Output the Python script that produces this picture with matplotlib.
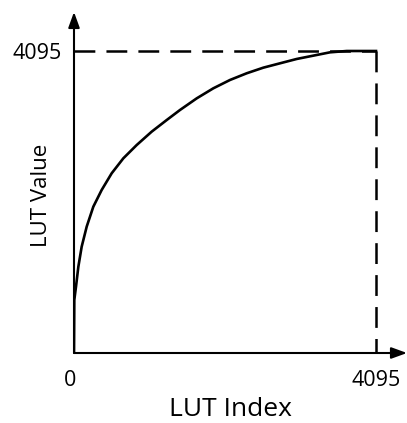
import matplotlib
matplotlib.use('Agg')
import matplotlib.pyplot as plt

plt.rcParams['font.family'] = ['Open Sans', 'DejaVu Sans']
plt.rcParams['lines.scale_dashes'] = False

# кривая LUT
lut_index = [0, 4, 27, 59, 104, 172, 262, 375, 511, 669, 850, 1053, 1257, 1437,
             1664, 1889, 2115, 2342, 2567, 2793, 3020, 3245, 3471, 3698, 4095]
lut_value = [0, 719, 899, 1170, 1441, 1713, 1984, 2210, 2437, 2640, 2820, 3001, 3159, 3295,
             3453, 3589, 3702, 3793, 3869, 3928, 3987, 4032, 4077, 4095, 4095]
max_code = 4095
tick_labels = ['0', '4095']

W, H = 407, 423
fig = plt.figure(figsize=(W / 100, H / 100), dpi=100)

# 302 px на 4095 по обеим осям
per_px = max_code / 302
x0, y0 = 74, 353          # начало координат в пикселях
ax = fig.add_axes([x0 / W, 1 - y0 / H, (W - x0) / W, (y0 - 12) / H])
xmax = (W - x0) * per_px
ymax = (y0 - 12) * per_px
ax.set_xlim(0, xmax)
ax.set_ylim(0, ymax)
ax.axis('off')

ax.plot(lut_index, lut_value, color='black', lw=1.9, solid_joinstyle='round')

dash = (0, (15, 8))
ax.plot([0, max_code], [max_code, max_code], color='black', lw=1.8, linestyle=dash)
ax.plot([max_code, max_code], [max_code, 0], color='black', lw=1.8, linestyle=dash)

arrow = dict(arrowstyle='-|>,head_length=0.55,head_width=0.2', color='black',
             lw=1.5, mutation_scale=17, shrinkA=0, shrinkB=0)
ax.annotate('', xy=(xmax, 0), xytext=(0, 0), arrowprops=arrow, annotation_clip=False)
ax.annotate('', xy=(0, ymax), xytext=(0, 0), arrowprops=arrow, annotation_clip=False)

# подписи
lab_y = (y0 - 386) * per_px
ax.text(-4 * per_px, lab_y, tick_labels[0], ha='center', va='baseline', fontsize=15.5)
ax.text(max_code, lab_y, tick_labels[1], ha='center', va='baseline', fontsize=15.5)
ax.text(-12 * per_px, max_code - 8 * per_px, tick_labels[1], ha='right', va='baseline', fontsize=15.5)

fig.text(230.5 / W, 1 - 416 / H, 'LUT Index', ha='center', va='baseline', fontsize=19)
fig.text(46.7 / W, 1 - 195 / H, 'LUT Value', ha='center', va='baseline', fontsize=16,
         rotation=90, rotation_mode='anchor')

plt.savefig('out.png', dpi=100)
plt.close()
